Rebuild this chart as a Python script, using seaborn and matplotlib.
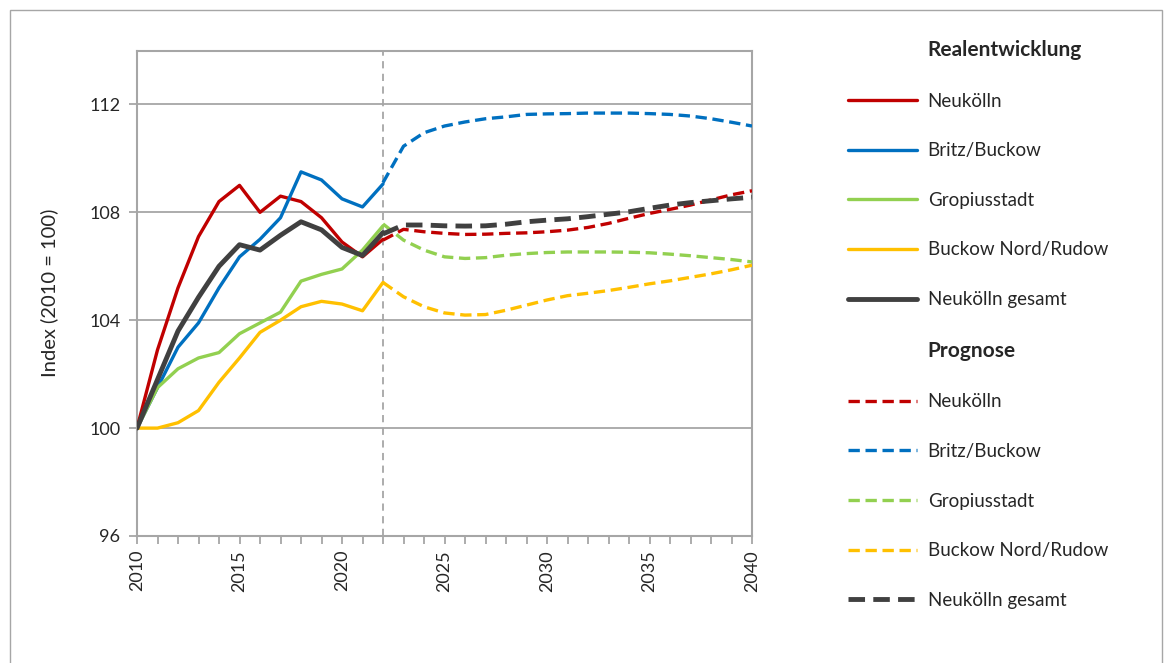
import numpy as np
import pandas as pd
import seaborn as sns
import matplotlib.pyplot as plt
from matplotlib.lines import Line2D
from matplotlib.patches import Rectangle

# observed values 2010-2022 (Index 2010 = 100)
years_real = list(range(2010, 2023))
neukoelln_real = [100.0, 102.9, 105.2, 107.1, 108.4, 109.0, 108.0, 108.6, 108.4, 107.8, 106.9, 106.35, 107.0]
britz_real = [100.0, 101.5, 103.0, 103.9, 105.2, 106.35, 107.0, 107.8, 109.5, 109.2, 108.5, 108.2, 109.05]
gropius_real = [100.0, 101.5, 102.2, 102.6, 102.8, 103.5, 103.9, 104.3, 105.45, 105.7, 105.9, 106.6, 107.5]
rudow_real = [100.0, 100.0, 100.2, 100.65, 101.7, 102.6, 103.55, 104.0, 104.5, 104.7, 104.6, 104.35, 105.4]
gesamt_real = [100.0, 101.8, 103.6, 104.85, 106.0, 106.8, 106.6, 107.15, 107.65, 107.35, 106.7, 106.4, 107.25]

# forecast 2022-2040
years_prog = list(range(2022, 2041))
neukoelln_prog = [106.97, 107.37, 107.28, 107.22, 107.18, 107.19, 107.22, 107.24, 107.28, 107.34,
                  107.44, 107.59, 107.78, 107.96, 108.11, 108.27, 108.46, 108.65, 108.8]
britz_prog = [109.1, 110.45, 110.95, 111.2, 111.35, 111.47, 111.54, 111.63, 111.65, 111.66,
              111.68, 111.68, 111.68, 111.66, 111.63, 111.57, 111.47, 111.34, 111.2]
gropius_prog = [107.57, 106.97, 106.6, 106.35, 106.29, 106.32, 106.41, 106.47, 106.51, 106.53,
                106.53, 106.53, 106.52, 106.5, 106.45, 106.39, 106.32, 106.25, 106.16]
rudow_prog = [105.4, 104.87, 104.5, 104.27, 104.19, 104.21, 104.37, 104.56, 104.75, 104.91,
              105.0, 105.1, 105.22, 105.35, 105.46, 105.59, 105.72, 105.87, 106.04]
gesamt_prog = [107.2, 107.53, 107.53, 107.5, 107.49, 107.5, 107.56, 107.65, 107.71, 107.76,
               107.84, 107.93, 108.02, 108.15, 108.27, 108.36, 108.43, 108.5, 108.56]

names = ['Neukölln', 'Britz/Buckow', 'Gropiusstadt', 'Buckow Nord/Rudow', 'Neukölln gesamt']
colors = ['#C00000', '#0070C0', '#92D050', '#FFC000', '#404040']
widths = [2.4, 2.4, 2.4, 2.4, 3.5]
real = [neukoelln_real, britz_real, gropius_real, rudow_real, gesamt_real]
prog = [neukoelln_prog, britz_prog, gropius_prog, rudow_prog, gesamt_prog]

sns.set_style('white')
plt.rcParams['font.family'] = ['Lato', 'DejaVu Sans']
grey = '#A6A6A6'
dash = (0, (3.4, 1.7))

fig = plt.figure(figsize=(11.67, 6.63), dpi=100)
ax = fig.add_axes([137 / 1167, 1 - 536 / 663, (752 - 137) / 1167, (536 - 50.5) / 663])

ax.axvline(2022, color=grey, lw=1.3, ls=(0, (4, 3)), zorder=1)

for name, c, w, r, p in zip(names, colors, widths, real, prog):
    sns.lineplot(x=years_real, y=r, color=c, lw=w, ax=ax, zorder=3)
    sns.lineplot(x=years_prog, y=p, color=c, lw=w, ax=ax, zorder=3, linestyle=dash)

ax.set_xlim(2010, 2040)
ax.set_ylim(96, 114)
ax.set_yticks([96, 100, 104, 108, 112])
ax.set_xticks(range(2010, 2041, 5))
ax.set_xticks(range(2010, 2041), minor=True)
ax.tick_params(axis='x', which='both', direction='out', length=6, color=grey, width=1.3,
               labelrotation=90, labelsize=13, pad=4, bottom=True)
ax.tick_params(axis='y', direction='out', length=6, color=grey, width=1.3, labelsize=13, pad=6, left=True)
ax.yaxis.grid(True, color=grey, lw=1.3)
ax.set_axisbelow(True)
for s in ax.spines.values():
    s.set_color(grey)
    s.set_linewidth(1.5)
ax.set_ylabel('Index (2010 = 100)', fontsize=14.5, labelpad=22)

# legend with section headers
blank = Line2D([], [], color='none')
handles = [blank]
labels = ['Realentwicklung']
for name, c, w in zip(names, colors, widths):
    handles.append(Line2D([], [], color=c, lw=w, solid_capstyle='round'))
    labels.append(name)
handles.append(blank)
labels.append('Prognose')
for name, c, w in zip(names, colors, widths):
    handles.append(Line2D([], [], color=c, lw=w, linestyle=dash))
    labels.append(name)

leg = fig.legend(handles, labels, loc='upper left', bbox_to_anchor=(848 / 1167, 1 - 40 / 663),
                 frameon=False, fontsize=13.5, handlelength=3.7, handletextpad=0.55,
                 labelspacing=1.74, borderpad=0, borderaxespad=0)
for t in leg.get_texts():
    t.set_color('#262626')
for i in (0, 6):
    leg.get_texts()[i].set_fontweight('bold')
    leg.get_texts()[i].set_fontsize(15)

fig.patches.append(Rectangle((10 / 1167, -0.05), (1162 - 10) / 1167, 1.05 - 10 / 663,
                             transform=fig.transFigure, fill=False, edgecolor=grey, lw=1.0))

fig.savefig('out.png', dpi=100)
